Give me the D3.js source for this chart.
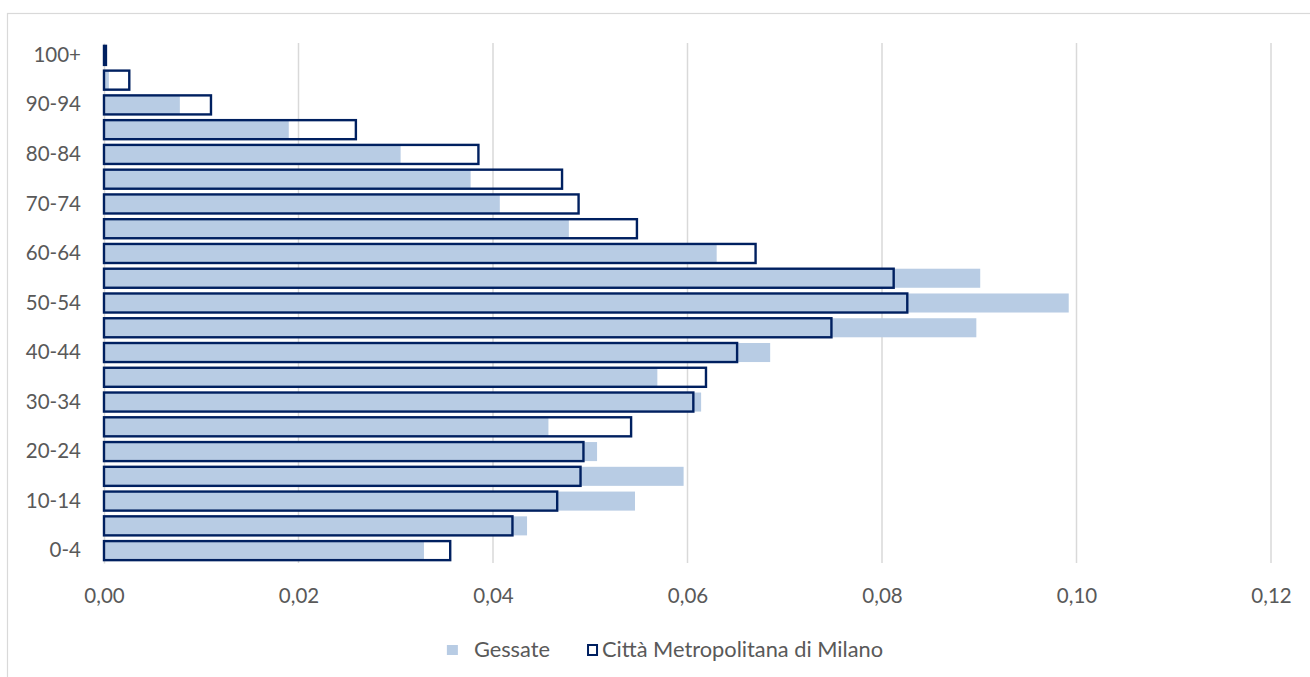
<!DOCTYPE html>
<html>
<head>
<meta charset="utf-8">
<script src="https://cdn.jsdelivr.net/npm/d3@7"></script>
<style>
  html, body { margin: 0; padding: 0; background: #ffffff; }
  svg { display: block; font-family: Lato, "Open Sans", sans-serif; }
</style>
</head>
<body>
<svg id="chart" width="1310" height="677"></svg>
<script>
// ---- data ----
const categories = ["0-4","5-9","10-14","15-19","20-24","25-29","30-34","35-39","40-44","45-49",
                    "50-54","55-59","60-64","65-69","70-74","75-79","80-84","85-89","90-94","95-99","100+"];
const gessate = [0.0329,0.0435,0.0546,0.0596,0.0507,0.0457,0.0614,0.0569,0.0685,0.0897,
                 0.0992,0.0901,0.0630,0.0478,0.0407,0.0377,0.0305,0.0190,0.0078,0.0005,0.0001];
const milano  = [0.0356,0.0420,0.0466,0.0490,0.0493,0.0542,0.0606,0.0619,0.0651,0.0748,
                 0.0826,0.0812,0.0670,0.0548,0.0488,0.0471,0.0385,0.0259,0.0110,0.0026,0.0002];
const xTicks = [0, 0.02, 0.04, 0.06, 0.08, 0.10, 0.12];
const yTickLabels = ["0-4","10-14","20-24","30-34","40-44","50-54","60-64","70-74","80-84","90-94","100+"];
const seriesNames = ["Gessate", "Città Metropolitana di Milano"];

// ---- layout ----
const svg = d3.select("#chart");
const W = 1310, H = 677;
const plot = { left: 104, right: 1271, top: 43, bottom: 563 };
const textColor = "#595959";
const gridColor = "#d9d9d9";
const fillColor = "#b8cce4";
const strokeColor = "#002060";
const axisFont = "20.5px";
const legendFont = "21.8px";

// chart frame
svg.append("rect").attr("x", 7.5).attr("y", 13.5).attr("width", W + 10).attr("height", H + 10)
  .attr("fill", "#fff").attr("stroke", gridColor).attr("stroke-width", 1.2);

const x = d3.scaleLinear().domain([0, 0.12]).range([plot.left, plot.right]);
const y = d3.scaleBand().domain(categories).range([plot.bottom, plot.top])
  .paddingInner(0.3 / 1.3).paddingOuter(0.15 / 1.3);

const locale = d3.formatLocale({ decimal: ",", thousands: ".", grouping: [3], currency: ["€", ""] });
const fmt = locale.format(".2f");

// gridlines
svg.append("g").selectAll("line").data(xTicks.slice(1)).join("line")
  .attr("x1", d => x(d)).attr("x2", d => x(d))
  .attr("y1", plot.top).attr("y2", plot.bottom)
  .attr("stroke", gridColor).attr("stroke-width", 1.5);

// x axis labels
const xAxis = d3.axisBottom(x).tickValues(xTicks).tickFormat(fmt).tickSize(0).tickPadding(0);
const gx = svg.append("g").attr("transform", `translate(0,${plot.bottom})`).call(xAxis);
gx.select(".domain").remove();
gx.selectAll("text").attr("dy", null).attr("y", 40).attr("fill", textColor)
  .style("font-size", axisFont).style("font-family", "Lato, 'Open Sans', sans-serif");

// bars - Gessate (filled)
svg.append("g").selectAll("rect").data(categories).join("rect")
  .attr("x", x(0))
  .attr("y", d => y(d))
  .attr("width", (d, i) => x(gessate[i]) - x(0))
  .attr("height", y.bandwidth())
  .attr("fill", fillColor);

// y axis (vertical baseline + labels)
const yAxis = d3.axisLeft(y).tickValues(yTickLabels).tickSize(0).tickPadding(23);
const gy = svg.append("g").attr("transform", `translate(${plot.left},0)`).call(yAxis);
gy.select(".domain").attr("stroke", gridColor).attr("stroke-width", 1.5);
gy.selectAll("text").attr("fill", textColor)
  .style("font-size", axisFont).style("font-family", "Lato, 'Open Sans', sans-serif");

// bars - Milano (outline)
svg.append("g").selectAll("rect").data(categories).join("rect")
  .attr("x", x(0))
  .attr("y", d => y(d))
  .attr("width", (d, i) => x(milano[i]) - x(0))
  .attr("height", y.bandwidth())
  .attr("fill", "none")
  .attr("stroke", strokeColor).attr("stroke-width", 2.4);

// legend
const lg = svg.append("g").style("font-size", legendFont).attr("fill", textColor);
const t1 = lg.append("text").attr("y", 657).text(seriesNames[0]);
const t2 = lg.append("text").attr("y", 657).text(seriesNames[1]);
const w1 = t1.node().getComputedTextLength();
const w2 = t2.node().getComputedTextLength();
const sw = 11, gapSwText = 16, gapItems = 37, gapSw2 = 4;
const total = sw + gapSwText + w1 + gapItems + sw + gapSw2 + w2;
let lx = 665 - total / 2;
lg.append("rect").attr("x", lx).attr("y", 645).attr("width", sw).attr("height", 10).attr("fill", fillColor);
t1.attr("x", lx + sw + gapSwText);
lx = lx + sw + gapSwText + w1 + gapItems;
lg.append("rect").attr("x", lx + 1).attr("y", 645).attr("width", sw - 2).attr("height", 10)
  .attr("fill", "none").attr("stroke", strokeColor).attr("stroke-width", 2);
t2.attr("x", lx + sw + gapSw2);
</script>
</body>
</html>
